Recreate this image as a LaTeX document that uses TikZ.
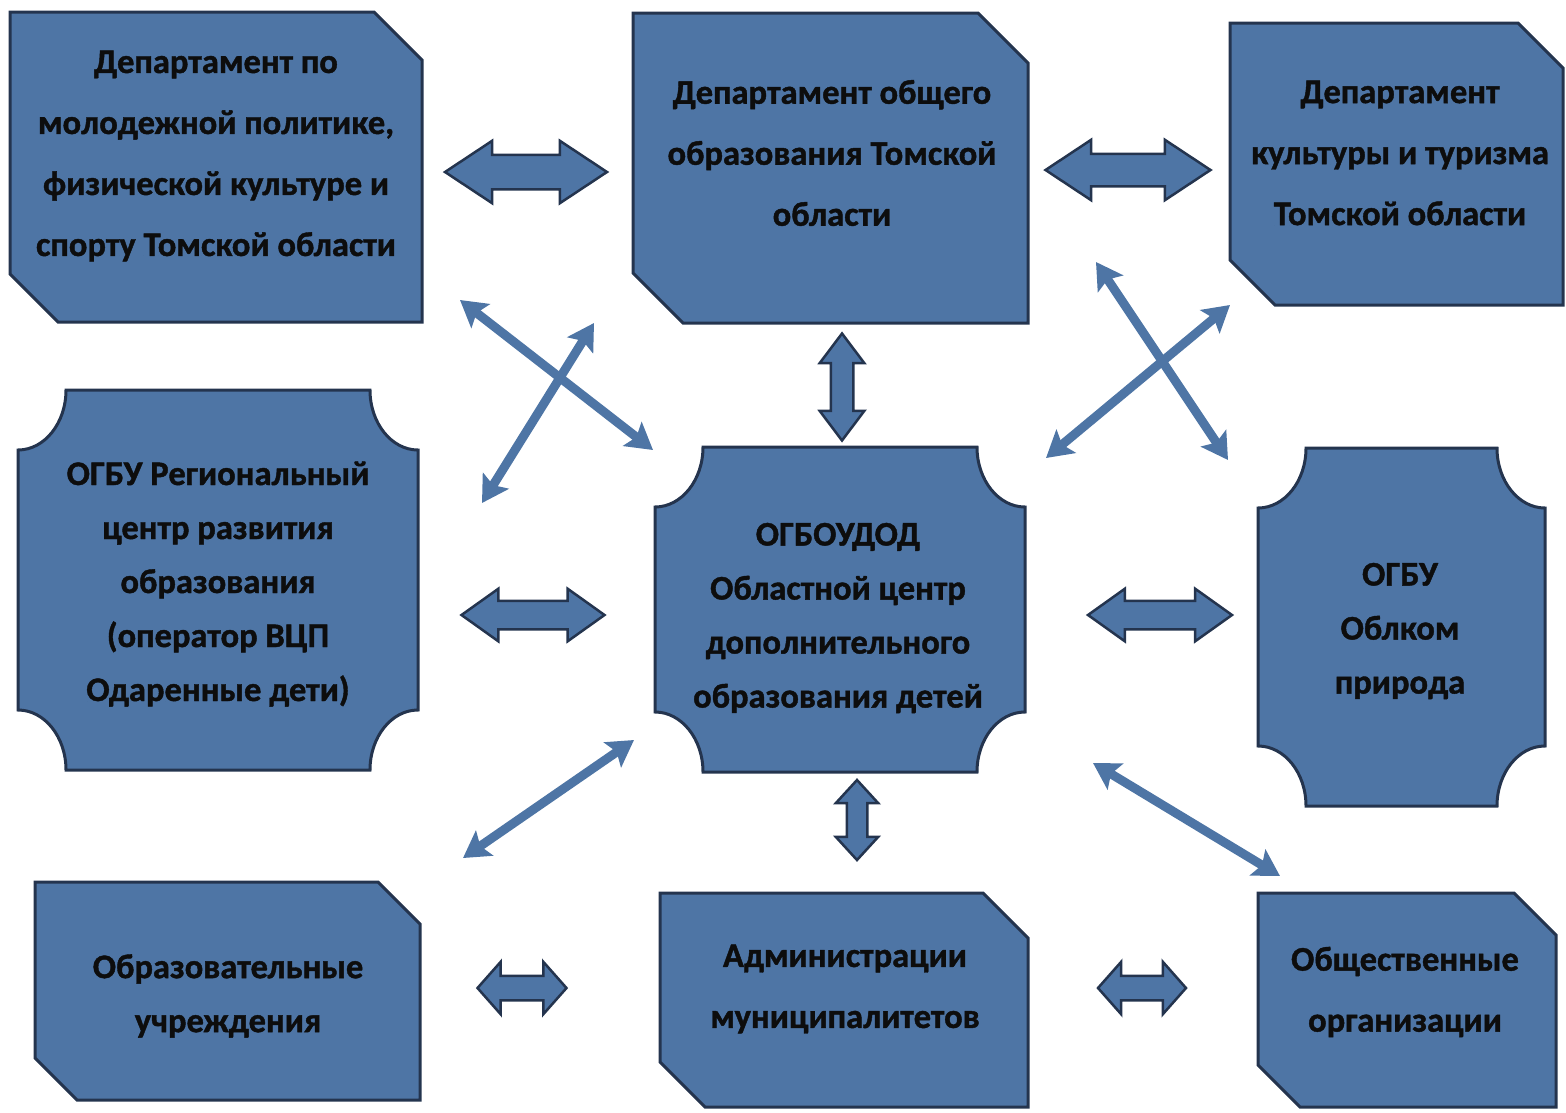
\documentclass[tikz,border=0pt]{standalone}
\usepackage{fontspec}
\setmainfont{Carlito}[BoldFeatures={FakeBold=1.2}]
\usetikzlibrary{shapes.arrows,arrows.meta}
\definecolor{boxblue}{RGB}{78,117,165}
\definecolor{edgeblue}{RGB}{36,52,78}
\newcommand\snipbox[5]{% x1 y1 x2 y2 cut
  \draw[box] (#1,#2) -- ({#3-#5},#2) -- (#3,{#2+#5}) -- (#3,#4) -- ({#1+#5},#4) -- (#1,{#4-#5}) -- cycle;}
\newcommand\plaquebox[4]{% x1 y1 x2 y2
  \draw[box] ({#1+48},#2) -- ({#3-48},#2) arc[start angle=180,end angle=90,x radius=48,y radius=60]
   -- (#3,{#4-60}) arc[start angle=270,end angle=180,x radius=48,y radius=60]
   -- ({#1+48},#4) arc[start angle=0,end angle=-90,x radius=48,y radius=60]
   -- (#1,{#2+60}) arc[start angle=90,end angle=0,x radius=48,y radius=60] -- cycle;}
\begin{document}
\begin{tikzpicture}[x=1pt,y=-1pt,
  box/.style={fill=boxblue,draw=edgeblue,line width=3pt,line join=miter},
  lbl/.style={align=center,font=\bfseries\fontsize{34.5}{61}\selectfont,text=black!95,inner sep=0pt},
  lblm/.style={align=center,font=\bfseries\fontsize{34.5}{54}\selectfont,text=black!95,inner sep=0pt},
  barrow/.style={double arrow,draw=edgeblue,fill=boxblue,line width=2.5pt,
    double arrow head indent=0pt},
  linkarrow/.style={draw=boxblue,line width=9pt,
    {Stealth[length=26pt,width=30pt,inset=5pt]}-{Stealth[length=26pt,width=30pt,inset=5pt]}}
]
\useasboundingbox (0,0) rectangle (1566,1112);

% boxes
\snipbox{10}{12}{422}{322}{48}
\snipbox{633}{13}{1028}{323}{50}
\snipbox{1230}{23}{1563}{305}{45}
\plaquebox{18}{390}{418}{770}
\plaquebox{655}{447}{1025}{772}
\plaquebox{1258}{448}{1545}{806}
\snipbox{35}{882}{420}{1100}{42}
\snipbox{660}{893}{1028}{1107}{45}
\snipbox{1258}{893}{1556}{1107}{42}

% labels
\node[lbl] (b1) at (216,156) {Департамент по\\молодежной политике,\\физической культуре и\\спорту Томской области};
\node[lbl] (b2) at (832,153) {Департамент общего\\образования Томской\\области};
\node[lbl] (b3) at (1400,153) {Департамент\\культуры и туризма\\Томской области};
\node[lblm] (b4) at (218,584) {ОГБУ Региональный\\центр развития\\образования\\(оператор ВЦП\\Одаренные дети)};
\node[lblm] (b5) at (838,618) {ОГБОУДОД\\Областной центр\\дополнительного\\образования детей};
\node[lblm] (b6) at (1400,631) {ОГБУ\\Облком\\природа};
\node[lblm] (b7) at (228,996) {Образовательные\\учреждения};
\node[lbl] (b8) at (845,989) {Администрации\\муниципалитетов};
\node[lbl] (b9) at (1405,992) {Общественные\\организации};

% block double arrows
\node[barrow,inner sep=16pt,minimum height=162pt,double arrow head extend=14pt,double arrow tip angle=67] (a1) at (526,172) {};
\node[barrow,inner sep=15pt,minimum height=165pt,double arrow head extend=14pt,double arrow tip angle=67] (a2) at (1128,170) {};
\node[barrow,inner sep=13pt,minimum height=143pt,double arrow head extend=12pt,double arrow tip angle=71] (a3) at (533,615) {};
\node[barrow,inner sep=13pt,minimum height=144pt,double arrow head extend=12pt,double arrow tip angle=71] (a4) at (1160,615) {};
\node[barrow,inner sep=11pt,minimum height=89pt,double arrow head extend=14pt,double arrow tip angle=97] (a5) at (522,988) {};
\node[barrow,inner sep=11pt,minimum height=88pt,double arrow head extend=14pt,double arrow tip angle=97] (a6) at (1142,988) {};
\node[barrow,inner sep=10pt,shape border rotate=90,minimum height=107pt,double arrow head extend=11pt,double arrow tip angle=74] (v1) at (842,387) {};
\node[barrow,inner sep=9pt,shape border rotate=90,minimum height=80pt,double arrow head extend=11pt,double arrow tip angle=85] (v2) at (857,820) {};

% thin diagonal double arrows
\coordinate (d1a) at (460,300); \coordinate (d1b) at (653,450);
\coordinate (d2a) at (594,323); \coordinate (d2b) at (482,503);
\coordinate (d3a) at (1096,262); \coordinate (d3b) at (1228,460);
\coordinate (d4a) at (1230,305); \coordinate (d4b) at (1046,458);
\coordinate (d5a) at (634,740); \coordinate (d5b) at (463,858);
\coordinate (d6a) at (1093,763); \coordinate (d6b) at (1280,876);
\draw[linkarrow] (d1a) -- (d1b);
\draw[linkarrow] (d2a) -- (d2b);
\draw[linkarrow] (d3a) -- (d3b);
\draw[linkarrow] (d4a) -- (d4b);
\draw[linkarrow] (d5a) -- (d5b);
\draw[linkarrow] (d6a) -- (d6b);
\end{tikzpicture}
\end{document}
